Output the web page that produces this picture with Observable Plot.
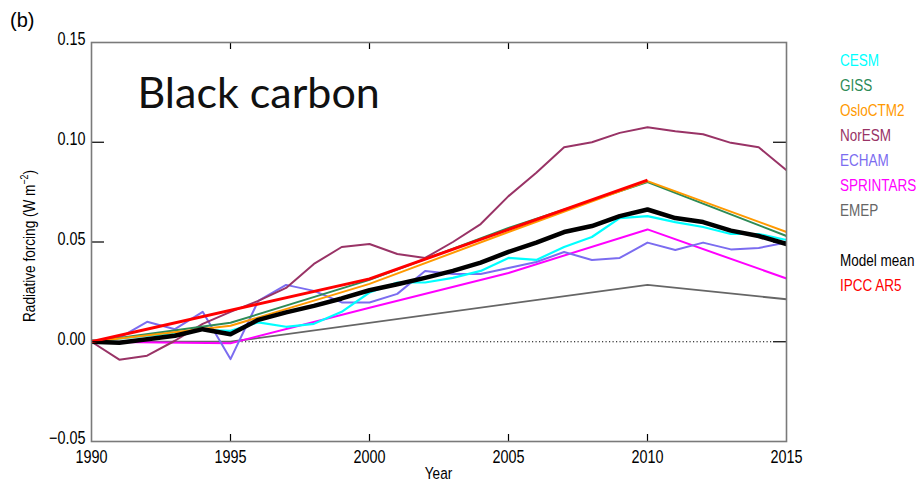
<!DOCTYPE html>
<html>
<head>
<meta charset="utf-8">
<script src="https://cdn.jsdelivr.net/npm/d3@7"></script>
<script src="https://cdn.jsdelivr.net/npm/@observablehq/plot@0.6"></script>
<style>
  html, body { margin: 0; padding: 0; background: #fff; }
  #chart { position: relative; width: 917px; height: 484px; }
</style>
</head>
<body>
<div id="chart"></div>
<script>
// ---------- data ----------
const years = [1990,1991,1992,1993,1994,1995,1996,1997,1998,1999,2000,2001,2002,2003,2004,2005,2006,2007,2008,2009,2010,2011,2012,2013,2014,2015];
const cesm   = [0,0.0015,0.003,0.004,0.006,0.0055,0.0097,0.0075,0.009,0.015,0.0247,0.0297,0.0297,0.032,0.0355,0.042,0.041,0.0475,0.0525,0.062,0.063,0.060,0.0575,0.054,0.054,0.051];
const noresm = [0,-0.009,-0.007,0.0005,0.009,0.015,0.0205,0.027,0.039,0.0475,0.049,0.044,0.042,0.050,0.059,0.073,0.0847,0.0975,0.100,0.1047,0.1075,0.1055,0.104,0.0997,0.0975,0.086];
const echam  = [0,0.002,0.010,0.0063,0.015,-0.0087,0.0205,0.0285,0.0255,0.0197,0.0197,0.024,0.0355,0.034,0.034,0.037,0.040,0.045,0.041,0.042,0.0497,0.046,0.0497,0.0463,0.047,0.0497];
const modelMean = [0,-0.0005,0.0013,0.003,0.0063,0.0038,0.011,0.0147,0.018,0.0217,0.0258,0.0288,0.032,0.0355,0.0397,0.045,0.0497,0.055,0.058,0.063,0.0663,0.062,0.060,0.0557,0.053,0.049];
const fiveYears = [1990,1995,2000,2005,2010,2015];
const giss      = [0,0.0095,0.031,0.057,0.080,0.053];
const oslo      = [0,0.008,0.029,0.055,0.0805,0.055];
const sprintars = [0,-0.0008,0.017,0.0345,0.0563,0.0317];
const emepYears = [1990,1995,2010,2015];
const emep      = [0,0,0.0285,0.0213];
const ipccYears = [1990,2000,2010];
const ipcc      = [0,0.0315,0.081];

const xTicks = [1990,1995,2000,2005,2010,2015];
const yTicks = [-0.05,0,0.05,0.10,0.15];
const innerYTicks = [0,0.05,0.10];
const innerXTicks = [1995,2000,2005,2010];

const legendNames  = ["CESM","GISS","OsloCTM2","NorESM","ECHAM","SPRINTARS","EMEP"];
const legendNames2 = ["Model mean","IPCC AR5"];

// ---------- styles ----------
const colors = {
  CESM: "#00ffff", GISS: "#2e8b57", OsloCTM2: "#ff9900", NorESM: "#993366",
  ECHAM: "#7b6cf0", SPRINTARS: "#ff00ff", EMEP: "#666666",
  "Model mean": "#000000", "IPCC AR5": "#ff0000"
};
const widths = {
  CESM: 2.2, GISS: 2, OsloCTM2: 2, NorESM: 2, ECHAM: 2, SPRINTARS: 2, EMEP: 1.8,
  "Model mean": 4.5, "IPCC AR5": 3
};

function series(name, xs, ys) { return xs.map((x, i) => ({name, year: x, value: ys[i]})); }
const drawOrder = [
  series("EMEP", emepYears, emep),
  series("SPRINTARS", fiveYears, sprintars),
  series("ECHAM", years, echam),
  series("NorESM", years, noresm),
  series("CESM", years, cesm),
  series("GISS", fiveYears, giss),
  series("OsloCTM2", fiveYears, oslo),
  series("Model mean", years, modelMean),
  series("IPCC AR5", ipccYears, ipcc)
];

const W = 917, H = 484;
const mL = 91, mR = 131, mT = 42, mB = 43;
const pxPerYear = (W - mL - mR) / 25;
const pxPerUnit = (H - mT - mB) / 0.2;
const longTick = 13 / pxPerYear;   // length of side ticks in years
const shortTick = 7 / pxPerUnit;   // length of top/bottom ticks in y units
const squeeze = "scale(0.8,1)";    // narrow Helvetica look

const font = "'Liberation Sans', Arial, sans-serif";

const chart = Plot.plot({
  width: W, height: H,
  marginLeft: mL, marginRight: mR, marginTop: mT, marginBottom: mB,
  style: {fontFamily: font, background: "#fff", overflow: "visible"},
  x: {domain: [1990, 2015]},
  y: {domain: [-0.05, 0.15]},
  marks: [
    Plot.ruleY([0], {x1: 1990, x2: 2015 - longTick, stroke: "#000", strokeWidth: 1, strokeDasharray: "1.2,2.3"}),
    ...drawOrder.map(s => Plot.line(s, {x: "year", y: "value", stroke: colors[s[0].name], strokeWidth: widths[s[0].name], strokeLinejoin: "round", strokeLinecap: "butt"})),
    Plot.ruleY(innerYTicks, {x1: 1990, x2: 1990 + longTick, stroke: "#000", strokeWidth: 1.2}),
    Plot.ruleY(innerYTicks, {x1: 2015 - longTick, x2: 2015, stroke: "#000", strokeWidth: 1.2}),
    Plot.ruleX(innerXTicks, {y1: 0.15, y2: 0.15 - shortTick, stroke: "#000", strokeWidth: 1.2}),
    Plot.ruleX(innerXTicks, {y1: -0.05, y2: -0.05 + shortTick, stroke: "#000", strokeWidth: 1.2}),
    Plot.frame({stroke: "#7a7a7a", strokeWidth: 1.6}),
    Plot.axisX(xTicks, {tickSize: 0, tickPadding: 9, fontSize: 18, label: null, fill: "#000", tickFormat: d => String(d)}),
    Plot.axisY(yTicks, {tickSize: 0, tickPadding: 6, dy: -3, fontSize: 18, label: null, fill: "#000", tickFormat: d3.format(".2f")}),
    Plot.text(["Black carbon"], {frameAnchor: "top-left", dx: 46, dy: 35, fontSize: 43, fontFamily: "Lato, 'Open Sans', sans-serif", fill: "#111", textAnchor: "start", lineAnchor: "top"})
  ]
});

document.getElementById("chart").appendChild(chart);

const svg = d3.select(chart);
// condense axis tick labels (Helvetica Narrow look of the original)
svg.selectAll('g[aria-label="x-axis tick label"] text, g[aria-label="y-axis tick label"] text')
  .attr("transform", function() { return (this.getAttribute("transform") || "") + " " + squeeze; });

// panel letter
svg.append("text").attr("x", 10).attr("y", 27).attr("text-anchor", "start")
  .attr("font-size", 20).attr("fill", "#000").text("(b)");
// axis titles
svg.append("text").attr("transform", `translate(${(mL + W - mR) / 2},479) ${squeeze}`).attr("text-anchor", "middle")
  .attr("font-size", 17).attr("fill", "#000").text("Year");
const yl = svg.append("text").attr("transform", `translate(35,246) rotate(-90) ${squeeze}`).attr("text-anchor", "middle")
  .attr("font-size", 17).attr("fill", "#000");
yl.append("tspan").text("Radiative forcing (W m");
yl.append("tspan").attr("font-size", 11).attr("dy", -7).text("−2");
yl.append("tspan").attr("dy", 7).text(")");
// legend
const lg = svg.append("g").attr("font-size", 16.5).attr("text-anchor", "start");
legendNames.forEach((n, i) => lg.append("text").attr("transform", `translate(840,${66 + 25 * i}) scale(0.82,1)`).attr("fill", colors[n]).text(n));
legendNames2.forEach((n, i) => lg.append("text").attr("transform", `translate(840,${266 + 25 * i}) scale(0.82,1)`).attr("fill", colors[n]).text(n));
</script>
</body>
</html>
